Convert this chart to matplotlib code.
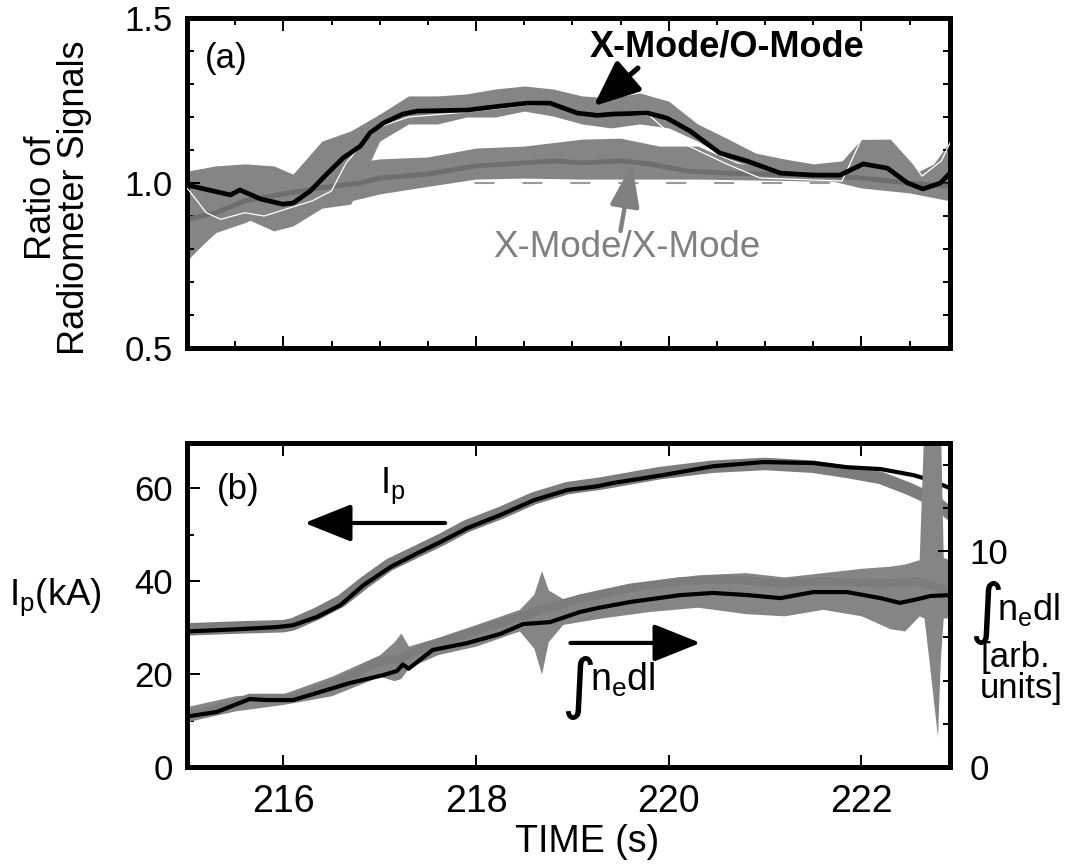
import matplotlib
matplotlib.use("Agg")
import matplotlib.pyplot as plt
from matplotlib.ticker import MultipleLocator, FixedLocator

plt.rcParams['font.family'] = ['Liberation Sans', 'DejaVu Sans']
plt.rcParams['mathtext.default'] = 'regular'

# ---- (a) radiometer ratios ----
xo_t = [215.0, 215.45, 215.55, 215.76, 215.99, 216.1, 216.28, 216.45, 216.62, 216.8,
        216.9, 217.04, 217.24, 217.39, 217.91, 218.25, 218.53, 218.77, 219.05, 219.26,
        219.42, 219.78, 219.98, 220.22, 220.53, 220.81, 221.16, 221.5, 221.78, 222.02,
        222.27, 222.48, 222.64, 222.82, 222.92]
xo_ratio = [0.994, 0.964, 0.979, 0.952, 0.936, 0.939, 0.976, 1.027, 1.076, 1.112,
            1.152, 1.182, 1.209, 1.218, 1.221, 1.233, 1.242, 1.242, 1.212, 1.205,
            1.209, 1.212, 1.197, 1.158, 1.091, 1.067, 1.030, 1.024, 1.024, 1.058,
            1.045, 1.000, 0.982, 1.000, 1.030]

xo_band_t = [215.0, 215.3, 215.6, 215.9, 216.1, 216.4, 216.7, 217.0, 217.3, 217.6,
             217.9, 218.2, 218.5, 218.8, 219.1, 219.4, 219.7, 220.0, 220.3, 220.6,
             220.9, 221.2, 221.5, 221.8, 222.0, 222.3, 222.6, 222.75, 222.92]
xo_lo = [0.765, 0.855, 0.894, 0.855, 0.870, 0.924, 0.936, 1.127, 1.179, 1.179,
         1.200, 1.200, 1.218, 1.203, 1.179, 1.167, 1.179, 1.167, 1.127, 1.076,
         1.045, 1.008, 1.006, 1.006, 1.006, 0.985, 0.976, 0.967, 0.967]
xo_hi = [1.036, 1.052, 1.058, 1.052, 1.027, 1.127, 1.158, 1.209, 1.264, 1.264,
         1.270, 1.285, 1.294, 1.285, 1.264, 1.258, 1.273, 1.248, 1.179, 1.136,
         1.091, 1.073, 1.058, 1.067, 1.133, 1.133, 1.036, 1.058, 1.127]

xo2_t = [215.0, 215.2, 215.35, 215.6, 215.8, 216.3, 216.5, 216.65, 216.85, 217.0,
         217.3, 217.9, 218.5, 218.8, 219.1, 219.8, 220.1, 220.6, 220.95, 221.8,
         222.0, 222.35, 222.63, 222.83, 222.93]
xo2_ratio = [0.985, 0.910, 0.890, 0.910, 0.900, 0.946, 0.976, 1.060, 1.130, 1.170,
             1.200, 1.215, 1.235, 1.238, 1.205, 1.205, 1.127, 1.058, 1.015, 1.006,
             1.133, 1.136, 1.021, 1.067, 1.127]

xx_t = [215.0, 215.3, 215.6, 216.0, 216.5, 216.8, 217.0, 217.5, 218.0, 218.5,
        218.8, 219.1, 219.5, 219.8, 220.2, 220.6, 221.0, 221.5, 222.0, 222.5, 222.92]
xx_ratio = [0.890, 0.910, 0.946, 0.967, 0.990, 1.000, 1.015, 1.027, 1.052, 1.061,
            1.067, 1.061, 1.067, 1.058, 1.036, 1.030, 1.027, 1.024, 1.015, 1.000, 0.990]

xx_band_t = [215.0, 215.3, 215.6, 216.0, 216.4, 216.7, 217.0, 217.5, 218.0, 218.5,
             219.1, 219.5, 219.9, 220.3, 220.7, 221.2, 221.7, 222.0, 222.5, 222.92]
xx_lo = [0.770, 0.850, 0.880, 0.930, 0.930, 0.946, 0.967, 0.990, 1.012, 1.015,
         1.012, 1.012, 1.012, 1.012, 1.010, 1.008, 1.006, 0.985, 0.970, 0.946]
xx_hi = [1.020, 0.990, 0.990, 1.000, 1.010, 1.061, 1.073, 1.079, 1.106, 1.112,
         1.133, 1.136, 1.112, 1.112, 1.061, 1.036, 1.058, 1.050, 1.035, 1.030]

# ---- (b) plasma current (kA) and line density (arb.) ----
ip_t = [215.03, 215.48, 215.93, 216.1, 216.35, 216.59, 216.83, 217.11, 217.39, 217.63,
        217.91, 218.25, 218.6, 218.95, 219.26, 219.42, 219.94, 220.46, 220.98, 221.5,
        221.85, 222.2, 222.54, 222.72, 222.92]
ip_ka = [29.2, 29.6, 30.1, 30.5, 32.3, 34.8, 39.1, 43.0, 46.0, 48.4,
         51.4, 54.2, 57.4, 59.6, 60.4, 61.1, 62.8, 64.7, 65.6, 65.4,
         64.5, 64.1, 62.8, 61.7, 60.0]

ip2_t = [215.0, 215.5, 216.0, 216.1, 216.35, 216.6, 216.85, 217.1, 217.4, 217.65,
         217.9, 218.25, 218.6, 218.95, 219.3, 219.9, 220.45, 221.0, 221.5, 221.85,
         222.2, 222.5, 222.75, 222.92]
ip2_ka = [29.6, 30.0, 30.3, 30.7, 33.0, 35.7, 39.8, 43.5, 46.5, 49.0,
          51.8, 54.6, 57.8, 60.0, 61.0, 63.2, 64.6, 65.2, 64.6, 63.5,
          62.2, 59.8, 57.4, 54.5]

ne_t = [215.03, 215.31, 215.65, 215.83, 216.1, 216.35, 216.69, 217.04, 217.18, 217.24,
        217.3, 217.55, 217.91, 218.25, 218.49, 218.77, 219.08, 219.26, 219.6, 220.12,
        220.46, 220.82, 221.16, 221.5, 221.85, 222.2, 222.4, 222.54, 222.72, 222.92]
ne_int = [2.36, 2.55, 3.15, 3.10, 3.10, 3.43, 3.89, 4.26, 4.45, 4.75,
          4.55, 5.42, 5.74, 6.16, 6.62, 6.71, 7.18, 7.36, 7.64, 7.96,
          8.06, 7.96, 7.82, 8.10, 8.10, 7.82, 7.60, 7.73, 7.92, 7.96]

ne2_t = [215.0, 215.3, 215.65, 216.1, 216.5, 217.0, 217.2, 217.5, 218.0, 218.45,
         218.7, 219.08, 219.6, 220.12, 220.6, 221.16, 221.6, 222.2, 222.6, 222.92]
ne2_int = [2.4, 2.65, 3.2, 3.2, 3.8, 4.9, 5.0, 5.6, 6.3, 6.95,
           7.3, 7.8, 8.3, 8.6, 8.7, 8.5, 8.6, 8.5, 8.6, 8.1]

ne_band_t = [215.0, 215.5, 216.0, 216.5, 217.0, 217.15, 217.22, 217.3, 217.6, 218.0,
             218.45, 218.6, 218.68, 218.75, 218.9, 219.3, 219.8, 220.3, 220.8, 221.2,
             221.6, 222.0, 222.3, 222.45, 222.6, 222.65, 222.7, 222.79, 222.82, 222.85, 222.92]
ne_lo = [2.1, 2.6, 2.9, 3.3, 4.2, 4.0, 4.1, 4.6, 5.2, 5.6,
         6.3, 5.5, 4.3, 5.8, 6.6, 6.9, 7.2, 7.4, 7.1, 7.0,
         7.3, 7.0, 6.4, 6.3, 7.0, 6.9, 5.0, 1.4, 5.0, 6.9, 6.9]
ne_hi = [2.8, 3.3, 3.4, 4.2, 5.2, 5.8, 6.2, 5.6, 6.0, 6.6,
         7.3, 8.0, 9.1, 8.2, 7.8, 8.2, 8.6, 8.9, 9.0, 8.8,
         9.0, 9.2, 9.3, 9.4, 9.6, 16.0, 16.0, 16.0, 16.0, 9.7, 9.6]

BAND = '#858585'
XX_LINE = '#6e6e6e'
XX_TEXT = '#808080'
SPINE_W = 3.6
TICK_FS = 25

fig = plt.figure(figsize=(10.76, 8.67), dpi=100)
axa = fig.add_axes([0.1738, 0.5986, 0.7091, 0.3806])
axb = fig.add_axes([0.1738, 0.1153, 0.7091, 0.3737])

for ax in (axa, axb):
    for s in ax.spines.values():
        s.set_linewidth(SPINE_W)
    ax.set_xlim(215, 222.92)

# panel (a)
axa.plot([215, 222.92], [1.0, 1.0], color='#9a9a9a', lw=1.5, dashes=(9.6, 13.4), zorder=0.5)
axa.fill_between(xx_band_t, xx_lo, xx_hi, color=BAND, lw=0, zorder=1)
axa.fill_between(xo_band_t, xo_lo, xo_hi, color=BAND, lw=0, zorder=1)
axa.plot(xx_t, xx_ratio, color=XX_LINE, lw=3.5, zorder=2, solid_joinstyle='round')
axa.plot(xo2_t, xo2_ratio, color='white', lw=0.9, zorder=3)
axa.plot(xo_t, xo_ratio, color='black', lw=3.4, zorder=4, solid_joinstyle='round')

axa.set_ylim(0.5, 1.5)
axa.set_yticks([0.5, 1.0, 1.5])
axa.set_yticklabels(['0.5', '1.0', '1.5'])
axa.yaxis.set_minor_locator(MultipleLocator(0.1))
axa.xaxis.set_major_locator(FixedLocator([216, 218, 220, 222]))
axa.xaxis.set_minor_locator(MultipleLocator(0.5))
axa.tick_params(which='both', direction='in', top=True, right=True, width=1.4,
                labelbottom=False, labelsize=TICK_FS, pad=10)
axa.tick_params(which='major', length=9)
axa.tick_params(which='minor', length=5)
fig.text(0.054, 0.772, 'Ratio of\nRadiometer Signals', fontsize=26, rotation=90,
         ha='center', va='center', linespacing=0.9)

axa.text(215.41, 1.376, '(a)', fontsize=25, ha='center', va='center')
axa.text(220.61, 1.412, 'X-Mode/O-Mode', fontsize=26, fontweight='bold', ha='center', va='center')
axa.annotate('', xy=(219.22, 1.233), xytext=(219.68, 1.348),
             arrowprops=dict(arrowstyle='-|>,head_length=1.4,head_width=0.6',
                             mutation_scale=20, lw=3.8, color='black',
                             shrinkA=0, shrinkB=0), zorder=6)
axa.text(219.56, 0.806, 'X-Mode/X-Mode', fontsize=26.5, color=XX_TEXT, ha='center', va='center')
axa.annotate('', xy=(219.62, 1.058), xytext=(219.5, 0.855),
             arrowprops=dict(arrowstyle='-|>,head_length=1.3,head_width=0.45',
                             mutation_scale=20, lw=3.2, color=XX_TEXT,
                             shrinkA=0, shrinkB=0), zorder=6)

# panel (b)
axb.plot(ip2_t, ip2_ka, color='#7c7c7c', lw=9, zorder=2, solid_joinstyle='round')
axb.plot(ip_t, ip_ka, color='black', lw=3, zorder=4, solid_joinstyle='round')
axb.set_ylim(0, 69.7)
axb.yaxis.set_major_locator(FixedLocator([0, 20, 40, 60]))
axb.yaxis.set_minor_locator(FixedLocator([10, 30, 50]))
axb.xaxis.set_major_locator(FixedLocator([216, 218, 220, 222]))
axb.tick_params(which='both', direction='in', top=True, right=False, width=1.4,
                labelsize=TICK_FS, pad=10)
axb.tick_params(which='major', length=9)
axb.tick_params(which='minor', length=5)
axb.tick_params(axis='x', pad=12, labelsize=27)
fig.text(0.5455, 0.029, 'TIME (s)', fontsize=27, ha='center', va='center')

ax2 = axb.twinx()
ax2.fill_between(ne_band_t, ne_lo, ne_hi, color=BAND, lw=0, zorder=1)
ax2.plot(ne2_t, ne2_int, color='#7c7c7c', lw=6, zorder=2, solid_joinstyle='round')
ax2.plot(ne_t, ne_int, color='black', lw=3, zorder=4, solid_joinstyle='round')
ax2.set_ylim(0, 15.0)
ax2.yaxis.set_major_locator(FixedLocator([0, 10]))
ax2.yaxis.set_minor_locator(FixedLocator([2, 4, 6, 8, 12, 14]))
ax2.tick_params(which='both', direction='in', width=1.4, labelsize=TICK_FS, pad=14)
ax2.tick_params(which='major', length=9)
ax2.tick_params(which='minor', length=5)
for s in ax2.spines.values():
    s.set_linewidth(SPINE_W)
ax2.set_xlim(215, 222.92)

axb.text(215.53, 59.6, '(b)', fontsize=25, ha='center', va='center')
axb.text(217.14, 60.5, '$\\mathregular{I_p}$', fontsize=26, ha='center', va='center')
axb.annotate('', xy=(216.22, 52.5), xytext=(217.68, 52.5),
             arrowprops=dict(arrowstyle='-|>,head_length=1.45,head_width=0.58',
                             mutation_scale=20, lw=3, color='black',
                             shrinkA=0, shrinkB=0), zorder=6)
axb.annotate('', xy=(220.33, 26.7), xytext=(218.98, 26.7),
             arrowprops=dict(arrowstyle='-|>,head_length=1.45,head_width=0.58',
                             mutation_scale=20, lw=3, color='black',
                             shrinkA=0, shrinkB=0), zorder=6)
axb.text(219.05, 17.0, '$\\int$', fontsize=34, family='DejaVu Sans',
         ha='center', va='center')
axb.text(219.18, 18.8, '$\\mathregular{n_e}$dl', fontsize=27, ha='left', va='center')

fig.text(0.052, 0.311, '$\\mathregular{I_p}$(kA)', fontsize=26.5, ha='center', va='center')
fig.text(0.916, 0.293, '$\\int$', fontsize=34, family='DejaVu Sans', ha='center', va='center')
fig.text(0.927, 0.297, '$\\mathregular{n_e}$dl', fontsize=26, ha='left', va='center')
fig.text(0.911, 0.242, '[arb.', fontsize=25, ha='left', va='center')
fig.text(0.911, 0.206, 'units]', fontsize=25, ha='left', va='center')

fig.savefig('out.png', dpi=100)
